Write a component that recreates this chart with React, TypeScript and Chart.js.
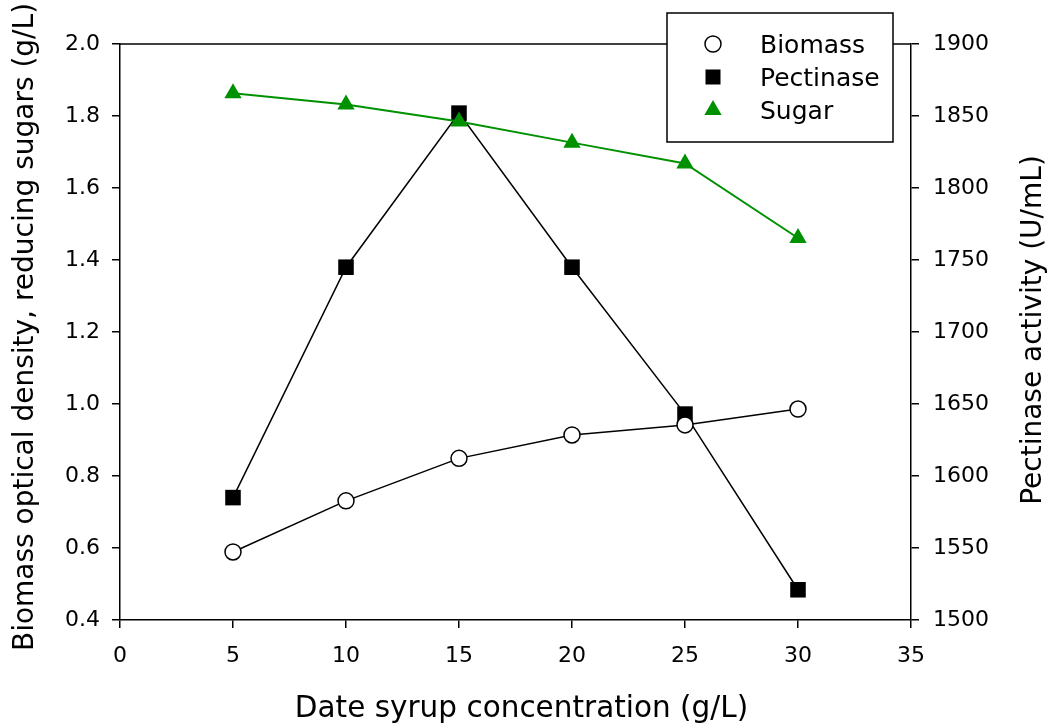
import React, { useEffect, useRef } from 'react';
import { Chart, registerables } from 'chart.js';

Chart.register(...registerables);

// ---- data ----
const concentrations = [5, 10, 15, 20, 25, 30];
const biomass = [0.589, 0.731, 0.849, 0.914, 0.942, 0.986];
const pectinase = [1585, 1745, 1852, 1745, 1643, 1521];
const sugar = [1.863, 1.832, 1.785, 1.726, 1.668, 1.461];

const xTickRange = { min: 0, max: 35, step: 5 };
const leftTickRange = { min: 0.4, max: 2.0, step: 0.2 };
const rightTickRange = { min: 1500, max: 1900, step: 50 };

const seriesNames = ['Biomass', 'Pectinase', 'Sugar'];
const xTitle = 'Date syrup concentration (g/L)';
const leftTitle = 'Biomass optical density, reducing sugars (g/L)';
const rightTitle = 'Pectinase activity (U/mL)';

const GREEN = '#009100';
const FONT = 'DejaVu Sans';

function drawMarker(ctx: CanvasRenderingContext2D, kind: string, x: number, y: number) {
  ctx.save();
  ctx.lineWidth = 1.5;
  if (kind === 'circle') {
    ctx.beginPath();
    ctx.arc(x, y, 8, 0, Math.PI * 2);
    ctx.fillStyle = '#ffffff';
    ctx.fill();
    ctx.strokeStyle = '#000';
    ctx.stroke();
  } else if (kind === 'rect') {
    ctx.fillStyle = '#000';
    ctx.fillRect(x - 7.5, y - 7.5, 15, 15);
  } else {
    const r = 10;
    ctx.beginPath();
    ctx.moveTo(x, y - r);
    ctx.lineTo(x + r * 0.866, y + r / 2);
    ctx.lineTo(x - r * 0.866, y + r / 2);
    ctx.closePath();
    ctx.fillStyle = GREEN;
    ctx.fill();
  }
  ctx.restore();
}

const decorPlugin = {
  id: 'decor',
  afterDraw(chart: any) {
    const ctx: CanvasRenderingContext2D = chart.ctx;
    const area = chart.chartArea;
    ctx.save();
    // top frame line
    ctx.strokeStyle = '#000';
    ctx.lineWidth = 1.5;
    ctx.beginPath();
    ctx.moveTo(area.left, area.top);
    ctx.lineTo(area.right, area.top);
    ctx.stroke();

    // axis titles
    ctx.fillStyle = '#000';
    ctx.textAlign = 'center';
    ctx.textBaseline = 'alphabetic';
    ctx.font = `29.5px "${FONT}"`;
    ctx.fillText(xTitle, (area.left + area.right) / 2 + 6, 717);

    ctx.font = `28px "${FONT}"`;
    ctx.save();
    ctx.translate(33, 327);
    ctx.rotate(-Math.PI / 2);
    ctx.fillText(leftTitle, 0, 0);
    ctx.restore();

    ctx.save();
    ctx.translate(1041, 330);
    ctx.rotate(-Math.PI / 2);
    ctx.fillText(rightTitle, 0, 0);
    ctx.restore();

    // legend box
    const bx = 667, by = 13, bw = 226, bh = 129;
    ctx.fillStyle = '#fff';
    ctx.fillRect(bx, by, bw, bh);
    ctx.strokeStyle = '#000';
    ctx.lineWidth = 1.5;
    ctx.strokeRect(bx, by, bw, bh);
    const kinds = ['circle', 'rect', 'triangle'];
    const markerY = [44, 77, 110];
    const baseY = [53, 86, 118.5];
    ctx.font = `25px "${FONT}"`;
    ctx.textAlign = 'left';
    ctx.textBaseline = 'alphabetic';
    for (let i = 0; i < seriesNames.length; i++) {
      drawMarker(ctx, kinds[i], 713, markerY[i]);
      ctx.fillStyle = '#000';
      ctx.fillText(seriesNames[i], 760, baseY[i]);
    }
    ctx.restore();
  },
};

export default function App() {
  const ref = useRef<HTMLCanvasElement | null>(null);

  useEffect(() => {
    if (!ref.current) return;
    const toPts = (ys: number[]) => concentrations.map((x, i) => ({ x, y: ys[i] }));
    const tickFont = { family: FONT, size: 22 };
    const gridCommon = {
      drawOnChartArea: false,
      drawTicks: true,
      tickLength: 8,
      color: '#000',
      lineWidth: 1.5,
    };
    const chart = new Chart(ref.current, {
      type: 'line',
      data: {
        datasets: [
          {
            label: seriesNames[2],
            data: toPts(sugar),
            yAxisID: 'y',
            borderColor: GREEN,
            backgroundColor: GREEN,
            borderWidth: 2,
            pointStyle: 'triangle',
            pointRadius: 10,
            pointBackgroundColor: GREEN,
            pointBorderColor: GREEN,
            pointBorderWidth: 0,
          },
          {
            label: seriesNames[0],
            data: toPts(biomass),
            yAxisID: 'y',
            borderColor: '#000',
            backgroundColor: '#fff',
            borderWidth: 1.5,
            pointStyle: 'circle',
            pointRadius: 8,
            pointBackgroundColor: '#fff',
            pointBorderColor: '#000',
            pointBorderWidth: 1.5,
          },
          {
            label: seriesNames[1],
            data: toPts(pectinase),
            yAxisID: 'y1',
            borderColor: '#000',
            backgroundColor: '#000',
            borderWidth: 1.5,
            pointStyle: 'rect',
            pointRadius: 11,
            pointBackgroundColor: '#000',
            pointBorderColor: '#000',
            pointBorderWidth: 0,
          },
        ],
      },
      options: {
        responsive: false,
        animation: false,
        layout: { padding: { top: 44, left: 0, right: 0, bottom: 0 } },
        plugins: { legend: { display: false }, tooltip: { enabled: false } },
        scales: {
          x: {
            type: 'linear',
            min: xTickRange.min,
            max: xTickRange.max,
            afterFit: (s: any) => { s.height = 105; },
            ticks: {
              stepSize: xTickRange.step,
              font: tickFont,
              color: '#000',
              padding: 15,
              maxRotation: 0,
              callback: (v: any) => String(v),
            },
            grid: gridCommon,
            border: { display: true, color: '#000', width: 1.5 },
          },
          y: {
            type: 'linear',
            position: 'left',
            min: leftTickRange.min,
            max: leftTickRange.max,
            afterFit: (s: any) => { s.width = 120; },
            ticks: {
              stepSize: leftTickRange.step,
              font: tickFont,
              color: '#000',
              padding: 12,
              callback: (v: any) => Number(v).toFixed(1),
            },
            grid: gridCommon,
            border: { display: true, color: '#000', width: 1.5 },
          },
          y1: {
            type: 'linear',
            position: 'right',
            min: rightTickRange.min,
            max: rightTickRange.max,
            afterFit: (s: any) => { s.width = 139; },
            ticks: {
              stepSize: rightTickRange.step,
              font: tickFont,
              color: '#000',
              padding: 14,
              callback: (v: any) => String(Math.round(Number(v))),
            },
            grid: gridCommon,
            border: { display: true, color: '#000', width: 1.5 },
          },
        },
      },
      plugins: [decorPlugin],
    } as any);
    return () => chart.destroy();
  }, []);

  return (
    <div style={{ position: 'absolute', left: 0, top: 0, width: 1050, height: 725, background: '#fff' }}>
      <canvas ref={ref} width={1050} height={725} style={{ display: 'block' }} />
    </div>
  );
}
